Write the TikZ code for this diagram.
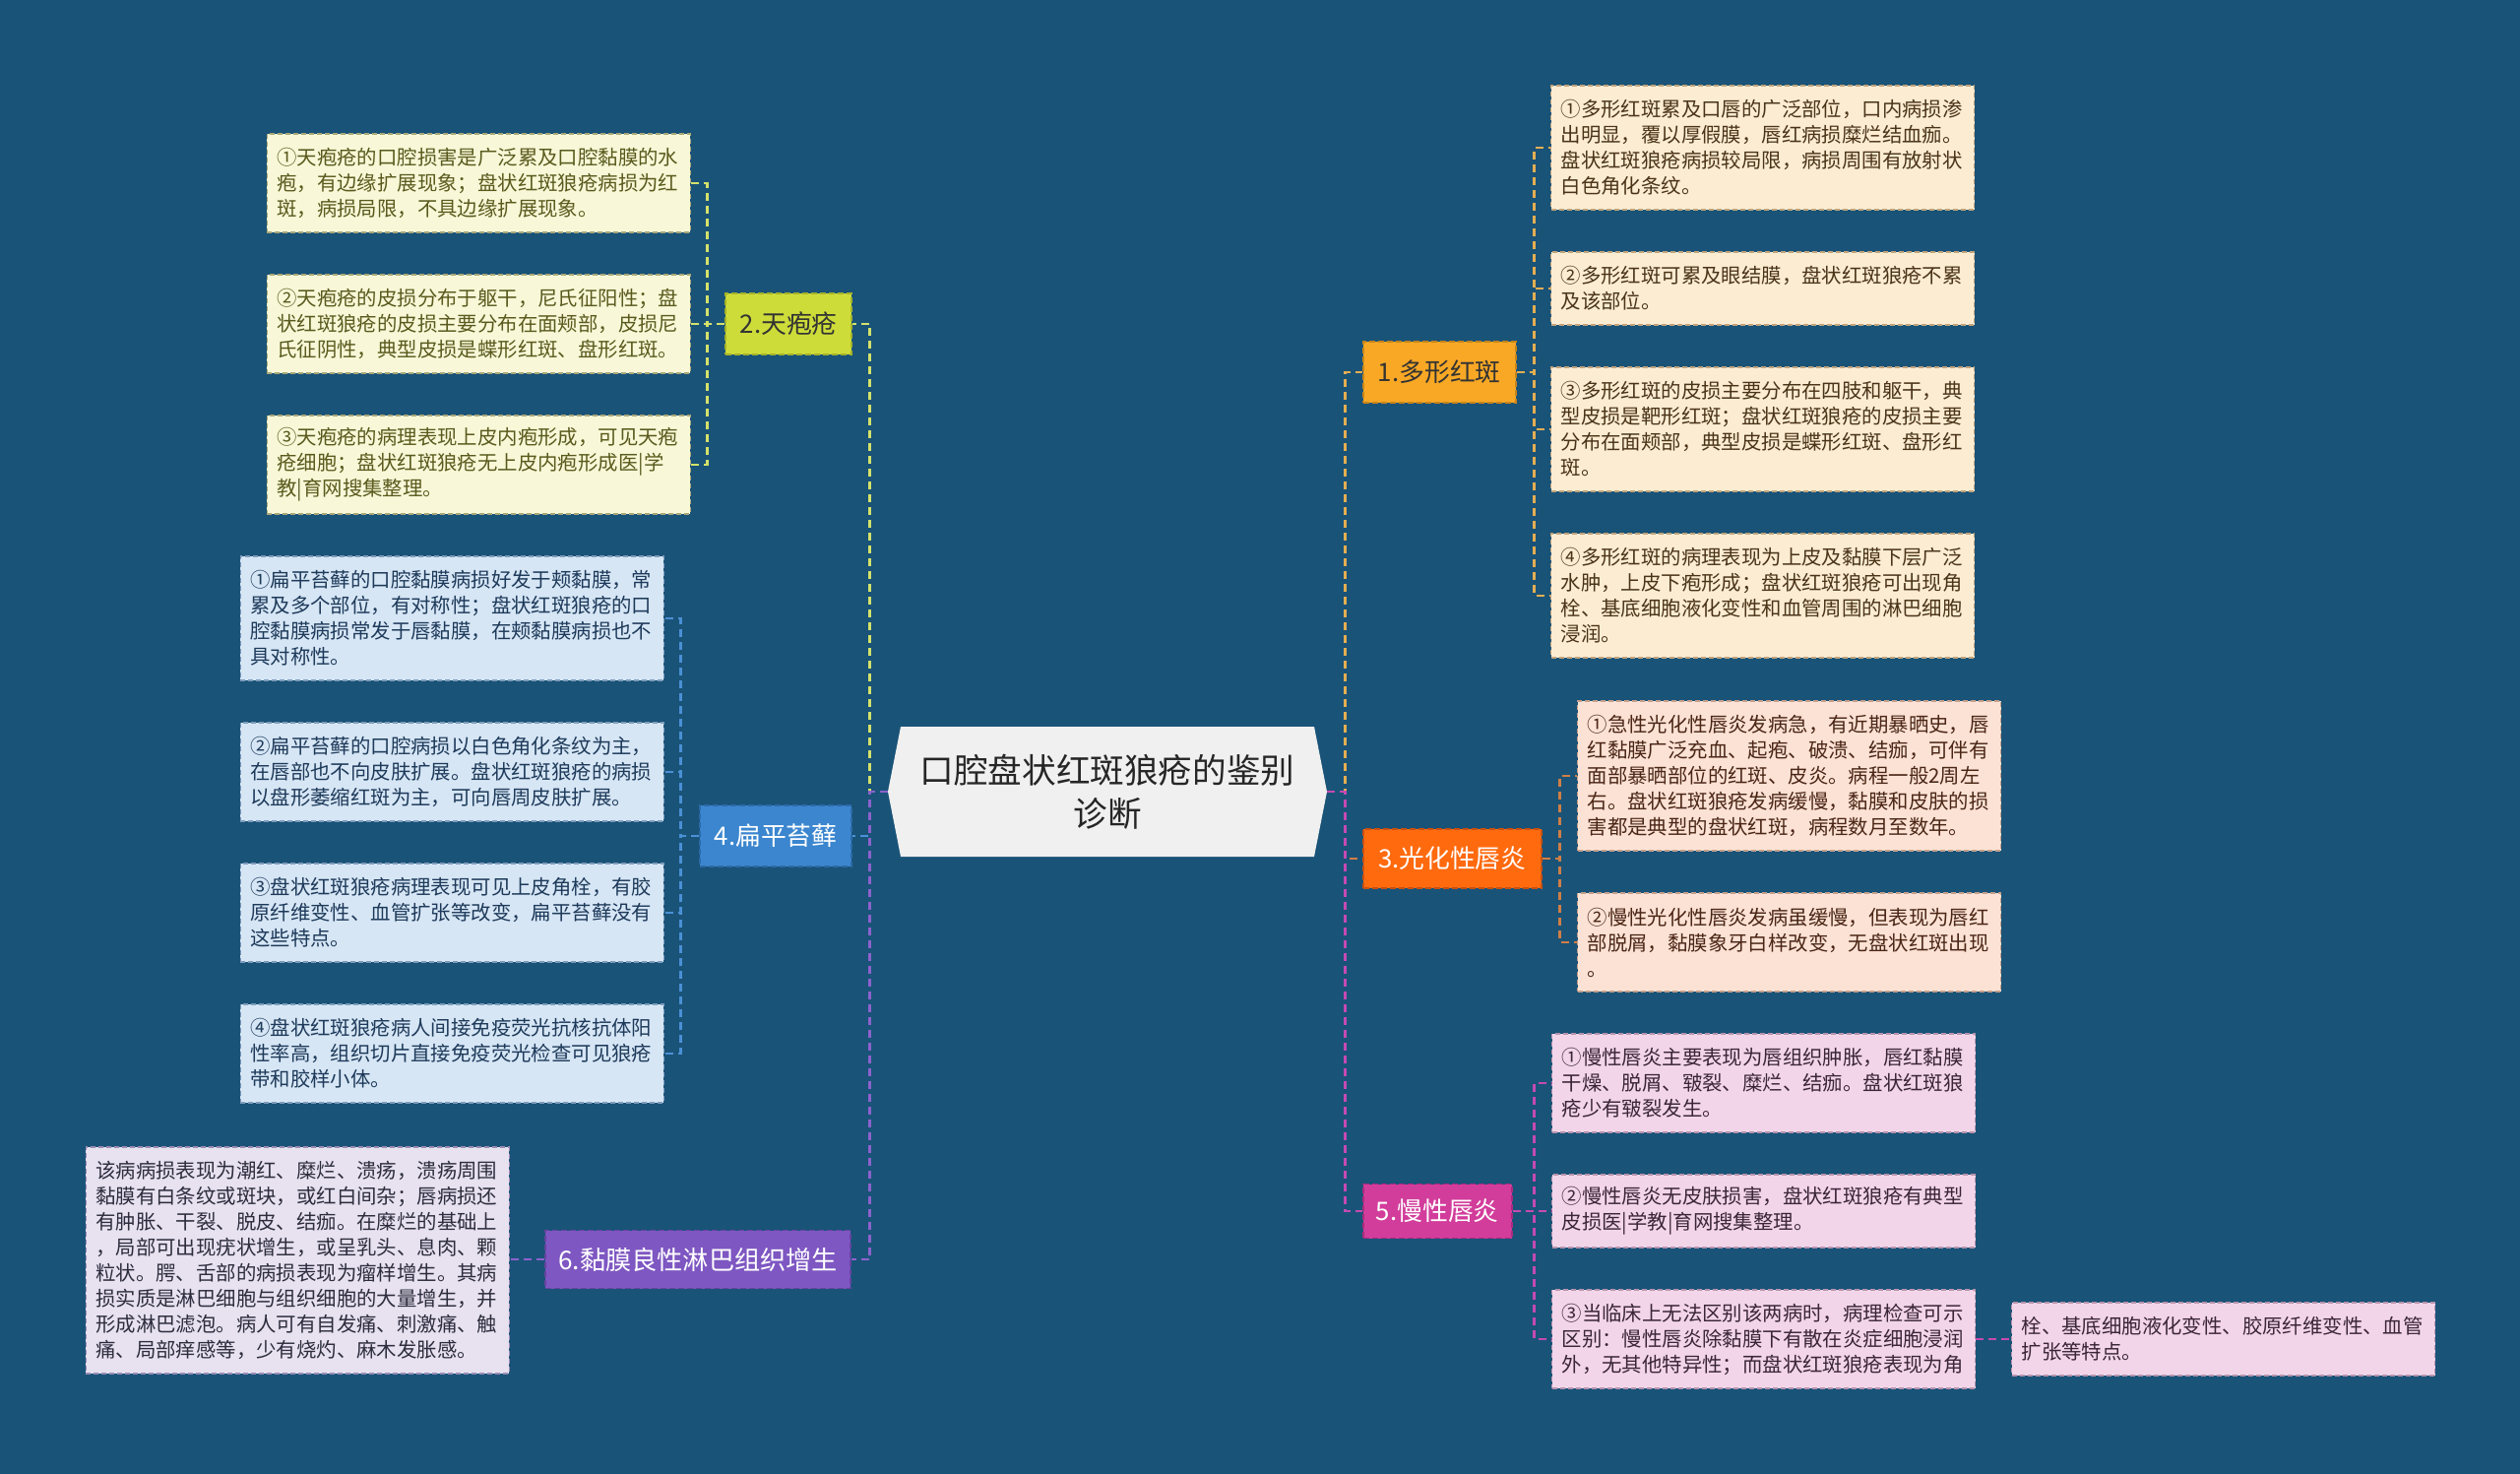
\documentclass[tikz,border=0pt]{standalone}
\usepackage{fontspec}
\setmainfont{Noto Sans CJK SC}
\usetikzlibrary{calc}
\definecolor{bgc}{HTML}{1A5378}
\definecolor{rootf}{HTML}{F0F0F0}
% group 2
\definecolor{b2f}{HTML}{CDDC39}\definecolor{b2d}{HTML}{A4B22A}
\definecolor{c2f}{HTML}{F8F8D8}\definecolor{c2d}{HTML}{A8A878}\definecolor{c2t}{HTML}{5A5A1E}
\definecolor{l2c}{HTML}{D4E16A}
% group 4
\definecolor{b4f}{HTML}{3B86CF}\definecolor{b4d}{HTML}{2C6AA8}
\definecolor{c4f}{HTML}{D6E6F5}\definecolor{c4d}{HTML}{7E9CBC}\definecolor{c4t}{HTML}{1E3A5A}
\definecolor{l4c}{HTML}{4A90D6}
% group 6
\definecolor{b6f}{HTML}{7E57C2}\definecolor{b6d}{HTML}{6444A0}
\definecolor{c6f}{HTML}{E7E1F0}\definecolor{c6d}{HTML}{9A8CB4}\definecolor{c6t}{HTML}{2D2D3D}
\definecolor{l6c}{HTML}{8C62CC}
% group 1
\definecolor{b1f}{HTML}{F8A825}\definecolor{b1d}{HTML}{C8841A}
\definecolor{c1f}{HTML}{FCECD2}\definecolor{c1d}{HTML}{C0A47C}\definecolor{c1t}{HTML}{4A3418}
\definecolor{l1c}{HTML}{E4AE52}
% group 3
\definecolor{b3f}{HTML}{FF6A0E}\definecolor{b3d}{HTML}{C85010}
\definecolor{c3f}{HTML}{FCE2D4}\definecolor{c3d}{HTML}{C4A08C}\definecolor{c3t}{HTML}{4A2616}
\definecolor{l3c}{HTML}{CF7E45}
% group 5
\definecolor{b5f}{HTML}{D23D9B}\definecolor{b5d}{HTML}{A82C7C}
\definecolor{c5f}{HTML}{F3D5EA}\definecolor{c5d}{HTML}{B894AC}\definecolor{c5t}{HTML}{3A2636}
\definecolor{l5c}{HTML}{C44AB2}
\tikzset{
  leaf/.style={rectangle, text width=205pt, inner xsep=5pt, inner ysep=0pt,
    align=left, font=\fontsize{10.2}{13}\selectfont, line width=0.7pt,
    dash pattern=on 2.5pt off 1.5pt},
  nl/.style={minimum height={#1*13pt+11pt}},
  br/.style={rectangle, inner sep=0pt, align=center,
    font=\fontsize{12.9}{15}\selectfont, line width=0.8pt,
    dash pattern=on 3pt off 1.5pt},
  ln/.style={line width=1.3pt, dash pattern=on 4pt off 2.5pt},
  k2/.style={leaf, fill=c2f, draw=c2d, text=c2t},
  k4/.style={leaf, fill=c4f, draw=c4d, text=c4t},
  k6/.style={leaf, fill=c6f, draw=c6d, text=c6t},
  k1/.style={leaf, fill=c1f, draw=c1d, text=c1t},
  k3/.style={leaf, fill=c3f, draw=c3d, text=c3t},
  k5/.style={leaf, fill=c5f, draw=c5d, text=c5t},
}
\begin{document}
\begin{tikzpicture}[x=0.5pt,y=-0.5pt]
\useasboundingbox (0,0) rectangle (2560,1497);
\fill[bgc] (0,0) rectangle (2560,1497);

% root hexagon
\fill[rootf] (902,804) -- (915,738) -- (1335,738) -- (1348,804) -- (1335,870) -- (915,870) -- cycle;
\node[minimum width=223pt, minimum height=66pt, inner sep=0pt, align=center,
  font=\fontsize{17.3}{22}\selectfont, text=black!85] (root) at (1125,804)
  {口腔盘状红斑狼疮的鉴别\\诊断};

% branches
\node[br, anchor=east, fill=b2f, draw=b2d, text=black!80, minimum width=64pt, minimum height=31pt] (b2) at (866,329) {2.天疱疮};
\node[br, anchor=east, fill=b4f, draw=b4d, text=white, minimum width=77pt, minimum height=31pt] (b4) at (866,849) {4.扁平苔藓};
\node[br, anchor=east, fill=b6f, draw=b6d, text=white, minimum width=155pt, minimum height=29.5pt, font=\fontsize{13.1}{15}\selectfont] (b6) at (865,1279) {6.黏膜良性淋巴组织增生};
\node[br, anchor=west, fill=b1f, draw=b1d, text=black!80, minimum width=77.5pt, minimum height=31pt] (b1) at (1384,378) {1.多形红斑};
\node[br, anchor=west, fill=b3f, draw=b3d, text=white, minimum width=90.5pt, minimum height=30pt] (b3) at (1384,872) {3.光化性唇炎};
\node[br, anchor=west, fill=b5f, draw=b5d, text=white, minimum width=75.5pt, minimum height=27.5pt] (b5) at (1384,1230) {5.慢性唇炎};

% group 2 leaves
\node[k2, nl=3, anchor=east] (c21) at (702,186) {①天疱疮的口腔损害是广泛累及口腔黏膜的水\\疱，有边缘扩展现象；盘状红斑狼疮病损为红\\斑，病损局限，不具边缘扩展现象。};
\node[k2, nl=3, anchor=east] (c22) at (702,329) {②天疱疮的皮损分布于躯干，尼氏征阳性；盘\\状红斑狼疮的皮损主要分布在面颊部，皮损尼\\氏征阴性，典型皮损是蝶形红斑、盘形红斑。};
\node[k2, nl=3, anchor=east] (c23) at (702,472) {③天疱疮的病理表现上皮内疱形成，可见天疱\\疮细胞；盘状红斑狼疮无上皮内疱形成医|学\\教|育网搜集整理。};

% group 4 leaves
\node[k4, nl=4, anchor=east] (c41) at (675,628) {①扁平苔藓的口腔黏膜病损好发于颊黏膜，常\\累及多个部位，有对称性；盘状红斑狼疮的口\\腔黏膜病损常发于唇黏膜，在颊黏膜病损也不\\具对称性。};
\node[k4, nl=3, anchor=east] (c42) at (675,784) {②扁平苔藓的口腔病损以白色角化条纹为主，\\在唇部也不向皮肤扩展。盘状红斑狼疮的病损\\以盘形萎缩红斑为主，可向唇周皮肤扩展。};
\node[k4, nl=3, anchor=east] (c43) at (675,927) {③盘状红斑狼疮病理表现可见上皮角栓，有胶\\原纤维变性、血管扩张等改变，扁平苔藓没有\\这些特点。};
\node[k4, nl=3, anchor=east] (c44) at (675,1070) {④盘状红斑狼疮病人间接免疫荧光抗核抗体阳\\性率高，组织切片直接免疫荧光检查可见狼疮\\带和胶样小体。};

% group 6 leaf
\node[k6, nl=8, anchor=east] (c61) at (518,1280) {该病病损表现为潮红、糜烂、溃疡，溃疡周围\\黏膜有白条纹或斑块，或红白间杂；唇病损还\\有肿胀、干裂、脱皮、结痂。在糜烂的基础上\\，局部可出现疣状增生，或呈乳头、息肉、颗\\粒状。腭、舌部的病损表现为瘤样增生。其病\\损实质是淋巴细胞与组织细胞的大量增生，并\\形成淋巴滤泡。病人可有自发痛、刺激痛、触\\痛、局部痒感等，少有烧灼、麻木发胀感。};

% group 1 leaves
\node[k1, nl=4, anchor=west] (c11) at (1575,150) {①多形红斑累及口唇的广泛部位，口内病损渗\\出明显，覆以厚假膜，唇红病损糜烂结血痂。\\盘状红斑狼疮病损较局限，病损周围有放射状\\白色角化条纹。};
\node[k1, nl=2, anchor=west] (c12) at (1575,293) {②多形红斑可累及眼结膜，盘状红斑狼疮不累\\及该部位。};
\node[k1, nl=4, anchor=west] (c13) at (1575,436) {③多形红斑的皮损主要分布在四肢和躯干，典\\型皮损是靶形红斑；盘状红斑狼疮的皮损主要\\分布在面颊部，典型皮损是蝶形红斑、盘形红\\斑。};
\node[k1, nl=4, anchor=west] (c14) at (1575,605) {④多形红斑的病理表现为上皮及黏膜下层广泛\\水肿，上皮下疱形成；盘状红斑狼疮可出现角\\栓、基底细胞液化变性和血管周围的淋巴细胞\\浸润。};

% group 3 leaves
\node[k3, nl=5, anchor=west] (c31) at (1602,788) {①急性光化性唇炎发病急，有近期暴晒史，唇\\红黏膜广泛充血、起疱、破溃、结痂，可伴有\\面部暴晒部位的红斑、皮炎。病程一般2周左\\右。盘状红斑狼疮发病缓慢，黏膜和皮肤的损\\害都是典型的盘状红斑，病程数月至数年。};
\node[k3, nl=3, anchor=west] (c32) at (1602,957) {②慢性光化性唇炎发病虽缓慢，但表现为唇红\\部脱屑，黏膜象牙白样改变，无盘状红斑出现\\。};

% group 5 leaves
\node[k5, nl=3, anchor=west] (c51) at (1576,1100) {①慢性唇炎主要表现为唇组织肿胀，唇红黏膜\\干燥、脱屑、皲裂、糜烂、结痂。盘状红斑狼\\疮少有皲裂发生。};
\node[k5, nl=2, anchor=west] (c52) at (1576,1230) {②慢性唇炎无皮肤损害，盘状红斑狼疮有典型\\皮损医|学教|育网搜集整理。};
\node[k5, nl=3, anchor=west] (c53) at (1576,1360) {③当临床上无法区别该两病时，病理检查可示\\区别：慢性唇炎除黏膜下有散在炎症细胞浸润\\外，无其他特异性；而盘状红斑狼疮表现为角};
\node[k5, nl=2, anchor=west] (c54) at (2043,1360) {栓、基底细胞液化变性、胶原纤维变性、血管\\扩张等特点。};

% connectors left
\draw[ln, l2c] (root.west) -- ++(-18,0) |- (b2.east);
\draw[ln, l4c] (root.west) -- ++(-18,0) |- (b4.east);
\draw[ln, l6c] (root.west) -- ++(-18,0) |- (b6.east);
\foreach \c in {c21,c22,c23} \draw[ln, l2c] (b2.west) -- ++(-18,0) |- (\c.east);
\foreach \c in {c41,c42,c43,c44} \draw[ln, l4c] (b4.west) -- ++(-19,0) |- (\c.east);
\draw[ln, l6c] (b6.west) -- (b6.west -| c61.east);

% connectors right
\draw[ln, l1c] (root.east) -- ++(18,0) |- (b1.west);
\draw[ln, l3c] (root.east) -- ++(18,0) |- (b3.west);
\draw[ln, l5c] (root.east) -- ++(18,0) |- (b5.west);
\foreach \c in {c11,c12,c13,c14} \draw[ln, l1c] (b1.east) -- ++(18,0) |- (\c.west);
\foreach \c in {c31,c32} \draw[ln, l3c] (b3.east) -- ++(18,0) |- (\c.west);
\foreach \c in {c51,c52,c53} \draw[ln, l5c] (b5.east) -- ++(22,0) |- (\c.west);
\draw[ln, l5c] (c53.east) -- (c54.west);
\end{tikzpicture}
\end{document}
